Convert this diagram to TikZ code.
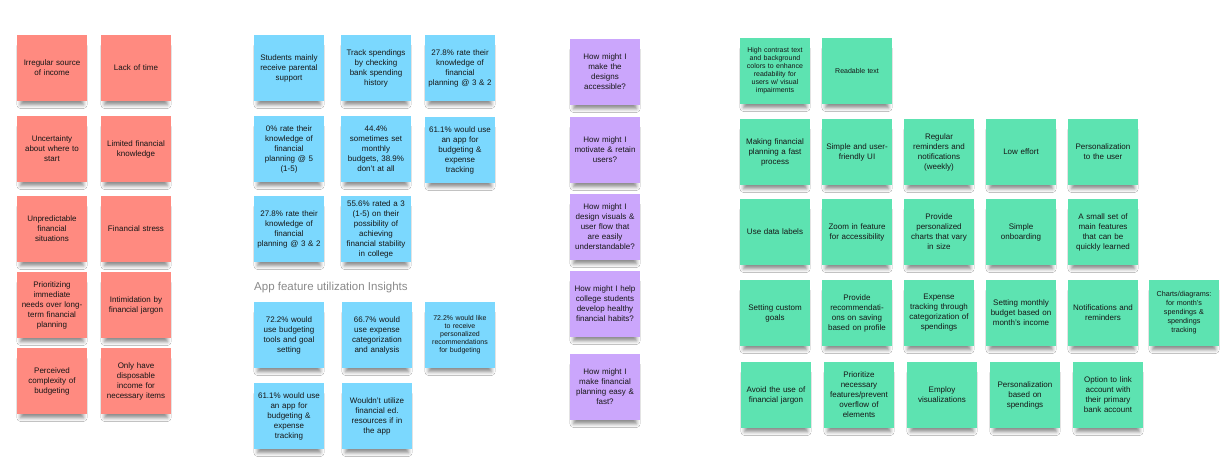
\documentclass[tikz,border=0pt]{standalone}
\usepackage{fontspec}
\setmainfont{Liberation Sans}
\usepackage{tikz}
\usetikzlibrary{shadows.blur}

\definecolor{painred}{HTML}{FF8A80}
\definecolor{insightblue}{HTML}{7BD8FE}
\definecolor{hmwpurple}{HTML}{CBA6FC}
\definecolor{ideagreen}{HTML}{5DE3B1}
\definecolor{inkgray}{HTML}{161616}
\definecolor{headgray}{HTML}{8A8A8A}

\begin{document}
\begin{tikzpicture}[x=1pt, y=-1pt,
    note/.style={minimum width=70pt, minimum height=66pt, inner sep=0pt,
        text width=70pt, align=center, text=inkgray,
        font=\fontsize{8}{10}\selectfont,
        blur shadow={shadow scale=0.9, shadow xshift=0pt, shadow yshift=-8pt,
            shadow blur radius=4pt, shadow opacity=45}},
    small/.style={font=\fontsize{7}{8}\selectfont},
    pain/.style={note, fill=painred},
    insight/.style={note, fill=insightblue},
    hmw/.style={note, fill=hmwpurple},
    idea/.style={note, fill=ideagreen}]
    \useasboundingbox (0,0) rectangle (1227,467);
    \fill[white] (0,0) rectangle (1227,467);

  % Pain points
    \def\a{52}
    \def\b{136}
    \node[pain] (pain11) at (\a,68) {Irregular source\\of income};
    \node[pain] (pain12) at (\b,68) {Lack of time};
    \node[pain] (pain21) at (\a,149) {Uncertainty\\about where to\\start};
    \node[pain] (pain22) at (\b,149) {Limited financial\\knowledge};
    \node[pain] (pain31) at (\a,229) {Unpredictable\\financial\\situations};
    \node[pain] (pain32) at (\b,229) {Financial stress};
    \node[pain] (pain41) at (\a,305) {Prioritizing\\immediate\\needs over long-\\term financial\\planning};
    \node[pain] (pain42) at (\b,305) {Intimidation by\\financial jargon};
    \node[pain] (pain51) at (\a,381) {Perceived\\complexity of\\budgeting};
    \node[pain] (pain52) at (\b,381) {Only have\\disposable\\income for\\necessary items};

  % Survey insights
    \def\a{289}
    \def\b{376}
    \def\c{460}
    \node[insight] (ins11) at (\a,68) {Students mainly\\receive parental\\support};
    \node[insight] (ins12) at (\b,68) {Track spendings\\by checking\\bank spending\\history};
    \node[insight] (ins13) at (\c,68) {27.8\% rate their\\knowledge of\\financial\\planning @ 3 \& 2};
    \node[insight] (ins21) at (\a,149) {0\% rate their\\knowledge of\\financial\\planning @ 5\\(1-5)};
    \node[insight] (ins22) at (\b,149) {44.4\%\\sometimes set\\monthly\\budgets, 38.9\%\\don't at all};
    \node[insight] (ins23) at (\c,150) {61.1\% would use\\an app for\\budgeting \&\\expense\\tracking};
    \node[insight] (ins31) at (\a,229) {27.8\% rate their\\knowledge of\\financial\\planning @ 3 \& 2};
    \node[insight] (ins32) at (\b,229) {55.6\% rated a 3\\(1-5) on their\\possibility of\\achieving\\financial stability\\in college};

    \node[anchor=west, inner sep=0pt, text=headgray, font=\fontsize{11.5}{13}\selectfont]
        (apphead) at (254,288) {App feature utilization Insights};

    \node[insight] (app11) at (\a,335) {72.2\% would\\use budgeting\\tools and goal\\setting};
    \node[insight] (app12) at (\b+1,335) {66.7\% would\\use expense\\categorization\\and analysis};
    \node[insight, small] (app13) at (\c,335) {72.2\% would like\\to receive\\personalized\\recommendations\\for budgeting};
    \node[insight] (app21) at (\a,416) {61.1\% would use\\an app for\\budgeting \&\\expense\\tracking};
    \node[insight] (app22) at (\b+1,416) {Wouldn't utilize\\financial ed.\\resources if in\\the app};

  % How might I
    \def\a{605}
    \node[hmw] (hmw1) at (\a,72) {How might I\\make the\\designs\\accessible?};
    \node[hmw] (hmw2) at (\a,150) {How might I\\motivate \& retain\\users?};
    \node[hmw] (hmw3) at (\a,227) {How might I\\design visuals \&\\user flow that\\are easily\\understandable?};
    \node[hmw] (hmw4) at (\a,304) {How might I help\\college students\\develop healthy\\financial habits?};
    \node[hmw] (hmw5) at (\a,387) {How might I\\make financial\\planning easy \&\\fast?};

  % Ideas
    \node[idea, small] (idea11) at (775,71) {High contrast text\\and background\\colors to enhance\\readability for\\users w/ visual\\impairments};
    \node[idea, small] (idea12) at (857,71) {Readable text};

    \node[idea] (idea21) at (775,152) {Making financial\\planning a fast\\process};
    \node[idea] (idea22) at (857,152) {Simple and user-\\friendly UI};
    \node[idea] (idea23) at (939,152) {Regular\\reminders and\\notifications\\(weekly)};
    \node[idea] (idea24) at (1021,152) {Low effort};
    \node[idea] (idea25) at (1103,152) {Personalization\\to the user};

    \node[idea] (idea31) at (775,232) {Use data labels};
    \node[idea] (idea32) at (857,232) {Zoom in feature\\for accessibility};
    \node[idea] (idea33) at (939,232) {Provide\\personalized\\charts that vary\\in size};
    \node[idea] (idea34) at (1021,232) {Simple\\onboarding};
    \node[idea] (idea35) at (1103,232) {A small set of\\main features\\that can be\\quickly learned};

    \node[idea] (idea41) at (775,313) {Setting custom\\goals};
    \node[idea] (idea42) at (857,313) {Provide\\recommendati-\\ons on saving\\based on profile};
    \node[idea] (idea43) at (939,313) {Expense\\tracking through\\categorization of\\spendings};
    \node[idea] (idea44) at (1021,313) {Setting monthly\\budget based on\\month's income};
    \node[idea] (idea45) at (1103,313) {Notifications and\\reminders};
    \node[idea, font=\fontsize{7.2}{9}\selectfont] (idea46) at (1184,313) {Charts/diagrams:\\for month's\\spendings \&\\spendings\\tracking};

    \node[idea] (idea51) at (776,395) {Avoid the use of\\financial jargon};
    \node[idea] (idea52) at (859,395) {Prioritize\\necessary\\features/prevent\\overflow of\\elements};
    \node[idea] (idea53) at (942,395) {Employ\\visualizations};
    \node[idea] (idea54) at (1025,395) {Personalization\\based on\\spendings};
    \node[idea] (idea55) at (1108,395) {Option to link\\account with\\their primary\\bank account};

\end{tikzpicture}
\end{document}
